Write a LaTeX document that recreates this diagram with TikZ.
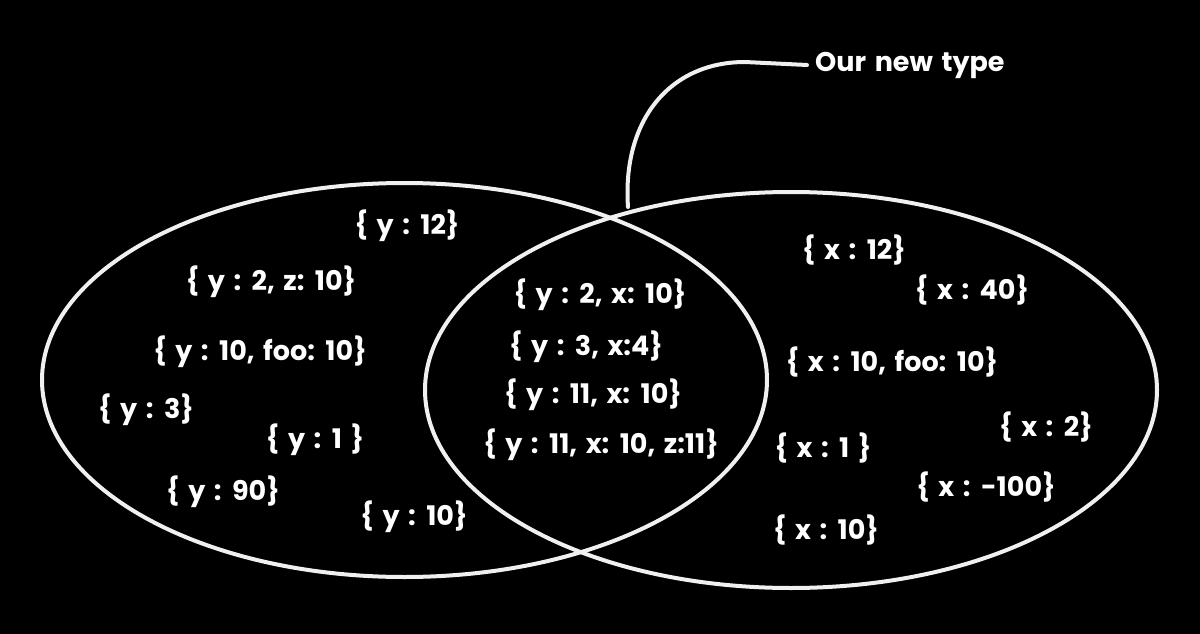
\documentclass[tikz,border=0pt]{standalone}
\usepackage{fontspec}
\setmainfont{Poppins}[WordSpace=1.5]
\begin{document}
\begin{tikzpicture}[x=1pt,y=-1pt,
  lbl/.style={text=white,font=\fontsize{27}{30}\selectfont\bfseries,inner sep=0pt},
  ring/.style={draw=white!94!black,line width=4pt},
  conn/.style={draw=white!94!black,line width=4pt,line cap=round}]
\fill[black] (0,0) rectangle (1200,634);
\useasboundingbox (0,0) rectangle (1200,634);
% sets
\draw[ring] (404.5,380) ellipse [x radius=362.5, y radius=197];
\draw[ring] (791,390) ellipse [x radius=366, y radius=198];
% left
\node[lbl] (l1) at (407,226) {\{ y : 12\}};
\node[lbl] (l2) at (271,282) {\{ y : 2, z: 10\}};
\node[lbl] (l3) at (260,352) {\{ y : 10, foo: 10\}};
\node[lbl] (l4) at (146,410) {\{ y : 3\}};
\node[lbl] (l5) at (315,440) {\{ y : 1 \}};
\node[lbl] (l6) at (223,492) {\{ y : 90\}};
\node[lbl] (l7) at (414,517) {\{ y : 10\}};
% middle
\node[lbl] (m1) at (600,295) {\{ y : 2, x: 10\}};
\node[lbl] (m2) at (586,347) {\{ y : 3, x:4\}};
\node[lbl] (m3) at (593,395) {\{ y : 11, x: 10\}};
\node[lbl] (m4) at (601,445) {\{ y : 11, x: 10, z:11\}};
% right
\node[lbl] (r1) at (854,250) {\{ x : 12\}};
\node[lbl] (r2) at (972,290) {\{ x : 40\}};
\node[lbl] (r3) at (892,362) {\{ x : 10, foo: 10\}};
\node[lbl] (r4) at (1046,427) {\{ x : 2\}};
\node[lbl] (r5) at (823,448) {\{ x : 1 \}};
\node[lbl] (r6) at (986,487) {\{ x : -100\}};
\node[lbl] (r7) at (826,530) {\{ x : 10\}};
% callout
\node[lbl,anchor=west] (t) at (815,65) {Our new type};
\coordinate (c0) at (628,207);
\draw[conn] (c0) .. controls (622,120) and (670,62) .. (745,62) -- ([xshift=-8pt]t.west);
\end{tikzpicture}
\end{document}
